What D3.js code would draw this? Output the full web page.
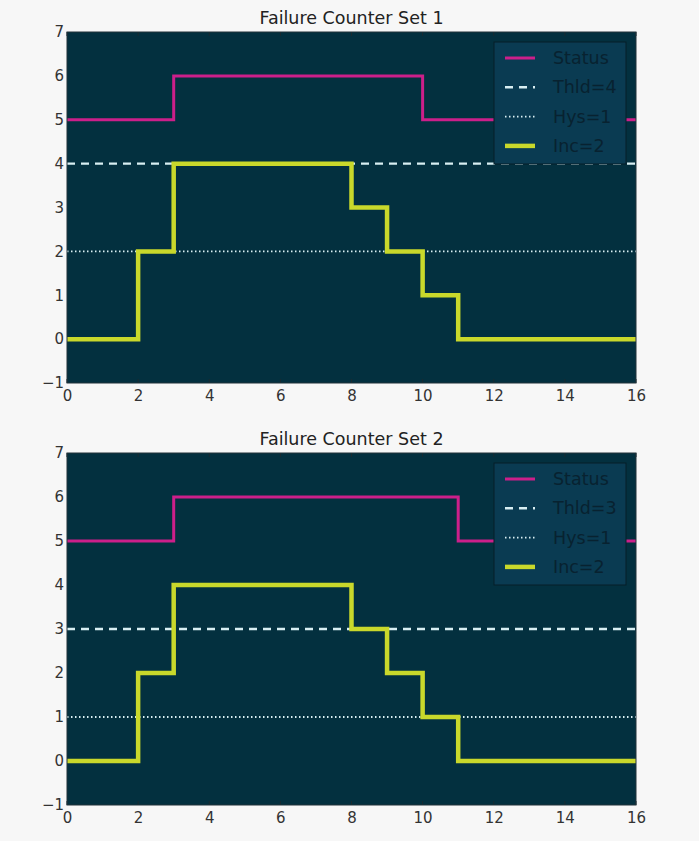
<!DOCTYPE html>
<html><head><meta charset="utf-8">
<script src="https://cdn.jsdelivr.net/npm/d3@7"></script>
<style>
body{margin:0;background:#f7f7f7;}
svg{display:block;font-family:"DejaVu Sans",sans-serif;}
</style></head>
<body><svg id="c" width="699" height="841"></svg>
<script>
const xTicks = [0,2,4,6,8,10,12,14,16];
const yTicks = [-1,0,1,2,3,4,5,6,7];
const incX = [0,2,3,8,9,10,11,16];
const incValues = [0,2,4,3,2,1,0,0];
const status1X = [0,3,10,16];
const status1Values = [5,6,5,5];
const status2X = [0,3,11,16];
const status2Values = [5,6,5,5];
const titles = ["Failure Counter Set 1","Failure Counter Set 2"];
const thresholds = [4,3];
const hysLevels = [2,1];
const legendLabels1 = ["Status","Thld=4","Hys=1","Inc=2"];
const legendLabels2 = ["Status","Thld=3","Hys=1","Inc=2"];

const svg = d3.select("#c");
const panels = [
  {top:32,bottom:383,title:titles[0],sx:status1X,sv:status1Values,thr:thresholds[0],hys:hysLevels[0],leg:legendLabels1},
  {top:453,bottom:805,title:titles[1],sx:status2X,sv:status2Values,thr:thresholds[1],hys:hysLevels[1],leg:legendLabels2}
];
const L=67,R=636;
const cStatus="#cc1f8a", cInc="#c9d82b", cRef="#d8eef2";

panels.forEach(p=>{
  const x=d3.scaleLinear().domain([0,16]).range([L,R]);
  const y=d3.scaleLinear().domain([-1,7]).range([p.bottom,p.top]);
  const g=svg.append("g");
  g.append("rect").attr("x",L).attr("y",p.top).attr("width",R-L).attr("height",p.bottom-p.top).attr("fill","#03303f");
  const clipId="clip"+p.top;
  g.append("clipPath").attr("id",clipId).append("rect").attr("x",L-3).attr("y",p.top).attr("width",R-L+6).attr("height",p.bottom-p.top);
  const pg=g.append("g").attr("clip-path",`url(#${clipId})`);
  const step=d3.line().x(d=>x(d[0])).y(d=>y(d[1])).curve(d3.curveStepAfter);
  pg.append("path").attr("d",d3.line()([[x(0),y(p.thr)],[x(16),y(p.thr)]]))
    .attr("stroke",cRef).attr("stroke-width",2.4).attr("stroke-dasharray","8,6").attr("fill","none");
  pg.append("path").attr("d",d3.line()([[x(0),y(p.hys)],[x(16),y(p.hys)]]))
    .attr("stroke",cRef).attr("stroke-width",1.8).attr("stroke-dasharray","1.5,2.5").attr("fill","none");
  pg.append("path").datum(p.sx.map((v,i)=>[v,p.sv[i]])).attr("d",step)
    .attr("stroke",cStatus).attr("stroke-width",3).attr("fill","none");
  pg.append("path").datum(incX.map((v,i)=>[v,incValues[i]])).attr("d",step)
    .attr("stroke",cInc).attr("stroke-width",4.5).attr("fill","none");
  const xa=g.append("g").attr("transform",`translate(0,${p.bottom})`)
    .call(d3.axisBottom(x).tickValues(xTicks).tickSize(0).tickPadding(5).tickFormat(d3.format("d")));
  const ya=g.append("g").attr("transform",`translate(${L},0)`)
    .call(d3.axisLeft(y).tickValues(yTicks).tickSize(0).tickPadding(3).tickFormat(d=>d<0?"\u2212"+(-d):d));
  [xa,ya].forEach(a=>{a.select(".domain").remove();a.selectAll("text").attr("fill","#333").attr("font-size",15).attr("font-family","DejaVu Sans, sans-serif");});
  xa.selectAll("text").attr("dy","0.85em");
  xTicks.forEach(t=>{
    g.append("line").attr("x1",x(t)).attr("x2",x(t)).attr("y1",p.bottom).attr("y2",p.bottom-4).attr("stroke","#1a2a30");
    g.append("line").attr("x1",x(t)).attr("x2",x(t)).attr("y1",p.top).attr("y2",p.top+4).attr("stroke","#1a2a30");
  });
  g.append("rect").attr("x",L).attr("y",p.top).attr("width",R-L).attr("height",p.bottom-p.top).attr("fill","none").attr("stroke","#22323a").attr("stroke-width",1);
  g.append("text").attr("x",(L+R)/2).attr("y",p.top-8).attr("text-anchor","middle").attr("font-size",17.5).attr("fill","#222").text(p.title);
  const lx=494, ly=p.top+10, lw=132, lh=122;
  g.append("rect").attr("x",lx).attr("y",ly).attr("width",lw).attr("height",lh).attr("fill","#0a3b52").attr("stroke","#061e28").attr("stroke-width",1);
  const styles=[
    {c:cStatus,w:3,d:null},{c:cRef,w:2.4,d:"8,6"},{c:cRef,w:1.8,d:"1.5,2.5"},{c:cInc,w:4.5,d:null}];
  p.leg.forEach((lab,i)=>{
    const yy=ly+16+i*29.3;
    g.append("line").attr("x1",lx+11).attr("x2",lx+41).attr("y1",yy).attr("y2",yy)
      .attr("stroke",styles[i].c).attr("stroke-width",styles[i].w).attr("stroke-dasharray",styles[i].d);
    g.append("text").attr("x",lx+59).attr("y",yy).attr("dy","0.35em").attr("font-size",17.5).attr("fill","#082230").text(lab);
  });
});
</script></body></html>
